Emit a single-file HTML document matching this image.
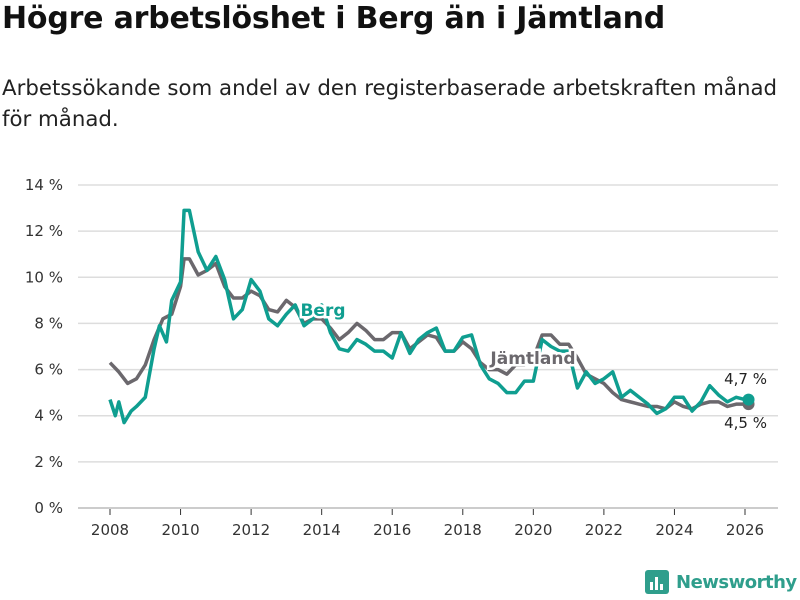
<!DOCTYPE html>
<html><head><meta charset="utf-8"><style>
body{margin:0;width:800px;height:600px;background:#fff;font-family:"Liberation Sans","DejaVu Sans",sans-serif;overflow:hidden;position:relative}
h1{position:absolute;left:2px;top:1px;margin:0;font-size:30px;font-weight:bold;color:#111;font-family:"DejaVu Sans","Liberation Sans",sans-serif;letter-spacing:-0.2px}
.sub{position:absolute;left:2px;top:73px;font-size:21.3px;line-height:31px;color:#222;font-family:"DejaVu Sans","Liberation Sans",sans-serif;width:795px}
svg{position:absolute;left:0;top:0}
</style></head><body>
<h1>Högre arbetslöshet i Berg än i Jämtland</h1>
<div class="sub">Arbetssökande som andel av den registerbaserade arbetskraften månad för månad.</div>
<svg width="800" height="600" id="chart"></svg>
<script>
const yTicks=[0,2,4,6,8,10,12,14];
const xTicks=[2008,2010,2012,2014,2016,2018,2020,2022,2024,2026];
const jamtT=[2008,2008.25,2008.5,2008.75,2009,2009.25,2009.5,2009.75,2010,2010.1,2010.25,2010.5,2010.75,2011,2011.25,2011.5,2011.75,2012,2012.25,2012.5,2012.75,2013,2013.25,2013.5,2013.75,2014,2014.25,2014.5,2014.75,2015,2015.25,2015.5,2015.75,2016,2016.25,2016.5,2016.75,2017,2017.25,2017.5,2017.75,2018,2018.25,2018.5,2018.75,2019,2019.25,2019.5,2019.75,2020,2020.25,2020.5,2020.75,2021,2021.25,2021.5,2021.75,2022,2022.25,2022.5,2022.75,2023,2023.25,2023.5,2023.75,2024,2024.25,2024.5,2024.75,2025,2025.25,2025.5,2025.75,2026,2026.1];
const jamtV=[6.3,5.9,5.4,5.6,6.2,7.3,8.2,8.4,9.6,10.8,10.8,10.1,10.3,10.6,9.6,9.1,9.1,9.4,9.2,8.6,8.5,9.0,8.7,8.0,8.2,8.2,7.8,7.3,7.6,8.0,7.7,7.3,7.3,7.6,7.6,6.9,7.2,7.5,7.4,6.8,6.8,7.2,6.9,6.3,6.0,6.0,5.8,6.2,6.2,6.5,7.5,7.5,7.1,7.1,6.5,5.8,5.6,5.4,5.0,4.7,4.6,4.5,4.4,4.4,4.3,4.6,4.4,4.3,4.5,4.6,4.6,4.4,4.5,4.5,4.5];
const bergT=[2008,2008.15,2008.25,2008.4,2008.6,2008.75,2009,2009.25,2009.4,2009.6,2009.75,2010,2010.1,2010.25,2010.5,2010.75,2011,2011.25,2011.5,2011.75,2012,2012.25,2012.5,2012.75,2013,2013.25,2013.5,2013.75,2014,2014.25,2014.5,2014.75,2015,2015.25,2015.5,2015.75,2016,2016.25,2016.5,2016.75,2017,2017.25,2017.5,2017.75,2018,2018.25,2018.5,2018.75,2019,2019.25,2019.5,2019.75,2020,2020.25,2020.5,2020.75,2021,2021.25,2021.5,2021.75,2022,2022.25,2022.5,2022.75,2023,2023.25,2023.5,2023.75,2024,2024.25,2024.5,2024.75,2025,2025.25,2025.5,2025.75,2026,2026.1];
const bergV=[4.7,4.0,4.6,3.7,4.2,4.4,4.8,6.9,7.9,7.2,9.0,9.8,12.9,12.9,11.1,10.3,10.9,9.9,8.2,8.6,9.9,9.4,8.2,7.9,8.4,8.8,7.9,8.2,8.8,7.6,6.9,6.8,7.3,7.1,6.8,6.8,6.5,7.6,6.7,7.3,7.6,7.8,6.8,6.8,7.4,7.5,6.2,5.6,5.4,5.0,5.0,5.5,5.5,7.3,7.0,6.8,6.8,5.2,5.9,5.4,5.6,5.9,4.8,5.1,4.8,4.5,4.1,4.3,4.8,4.8,4.2,4.6,5.3,4.9,4.6,4.8,4.7,4.7];
const NS="http://www.w3.org/2000/svg",svg=document.getElementById('chart');
const x=t=>110+(t-2008)*(745-110)/18, y=v=>508-v*(508-185)/14;
function mk(tag,at,parent){const e=document.createElementNS(NS,tag);for(const k in at)e.setAttribute(k,at[k]);(parent||svg).appendChild(e);return e;}
yTicks.forEach(v=>{
 const l=mk('line',{x1:78,x2:778,y1:y(v),y2:y(v),stroke:v===0?'#ccc':'#ddd','stroke-width':v===0?2:1.5});
 
 
 const t=mk('text',{x:63,y:y(v)+5,'text-anchor':'end','font-size':15,fill:'#333','font-family':'DejaVu Sans, Liberation Sans, sans-serif'});
 t.textContent=v+' %';
 
 
});
xTicks.forEach(v=>{
 const l=mk('line',{x1:x(v),x2:x(v),y1:509,y2:515,stroke:'#333','stroke-width':1});
 
 
 const t=mk('text',{x:x(v),y:535,'text-anchor':'middle','font-size':15,fill:'#333','font-family':'DejaVu Sans, Liberation Sans, sans-serif'});
 t.textContent=v;
 
 
});
function line(T,V,col,name){
 const p=mk('polyline',{points:T.map((t,i)=>x(t)+','+y(V[i])).join(' '),fill:'none',stroke:col,'stroke-width':3.5,'stroke-linejoin':'round'});
 
 
}
line(jamtT,jamtV,'#6b686d','jamtland-line');
line(bergT,bergV,'#0f9e90','berg-line');
function lab(tx,X,Y,col,name,anchor){
 const t=mk('text',{x:X,y:Y,'font-size':17,'font-weight':'bold',fill:col,stroke:'#fff','stroke-width':5,'paint-order':'stroke','text-anchor':anchor||'middle','font-family':'DejaVu Sans, Liberation Sans, sans-serif'});
 t.textContent=tx;
 
 
}
lab('Berg',323,316,'#0f9e90','berg-label');
lab('Jämtland',533,364,'#6b686d','jamtland-label');
const lx=x(jamtT[jamtT.length-1]);
const d1=mk('circle',{cx:lx,cy:y(jamtV[jamtV.length-1]),r:6,fill:'#6b686d'});


const d2=mk('circle',{cx:lx,cy:y(bergV[bergV.length-1]),r:6,fill:'#0f9e90'});


function vl(tx,Y,name){const t=mk('text',{x:767,y:Y,'font-size':15,fill:'#222','text-anchor':'end','font-family':'DejaVu Sans, Liberation Sans, sans-serif'});t.textContent=tx;
 
 }
vl(String(bergV[bergV.length-1]).replace('.',',')+' %',384,'berg-end-value');
vl(String(jamtV[jamtV.length-1]).replace('.',',')+' %',428,'jamtland-end-value');
</script>
<div style="position:absolute;left:645px;top:570px;display:flex;align-items:center">
<div style="width:24px;height:24px;background:#2f9e8c;border-radius:3px;position:relative">
<div style="position:absolute;left:5px;bottom:4px;width:3px;height:8px;background:#fff"></div>
<div style="position:absolute;left:10px;bottom:4px;width:3px;height:13px;background:#fff"></div>
<div style="position:absolute;left:15px;bottom:4px;width:3px;height:6px;background:#fff"></div></div>
<span style="margin-left:7px;font-size:18px;font-weight:bold;color:#2f9e8c;font-family:'DejaVu Sans','Liberation Sans',sans-serif;letter-spacing:-0.5px">Newsworthy</span></div>
</body></html>
